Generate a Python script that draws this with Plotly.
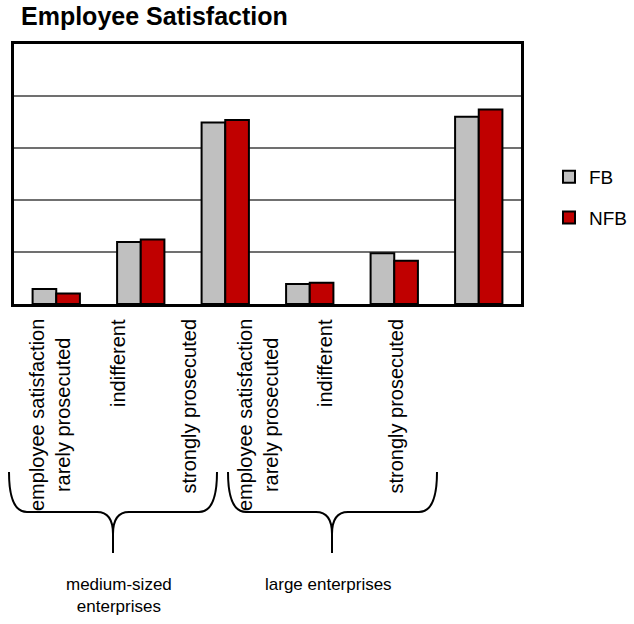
import plotly.graph_objects as go

# ---- data ----
groups = ["medium-sized<br>enterprises", "large enterprises"]
categories = ["employee satisfaction<br>rarely prosecuted", "indifferent", "strongly prosecuted"]
series_names = ["FB", "NFB"]
fb_values = [2.9, 11.9, 34.9, 3.85, 9.75, 36.0]
nfb_values = [2.0, 12.4, 35.4, 4.1, 8.3, 37.4]
y_max = 50
y_step = 10

# ---- layout helpers (pixel geometry of the plot area) ----
W, H = 634, 624
PL, PR, PT, PB = 14, 521, 44, 304


def pxx(x):
    return (x - PL) / (PR - PL)


def pxy(y):
    return (PB - y) / (PB - PT)


x_group = [g for g in groups for _ in categories]
x_cat = [c for _ in groups for c in categories]

SANS = "Liberation Sans, Arial, sans-serif"

fig = go.Figure()
fig.add_trace(go.Bar(
    x=[x_group, x_cat], y=fb_values, name=series_names[0],
    marker=dict(color="#C0C0C0", line=dict(color="black", width=2)),
    legendgroup="a",
))
fig.add_trace(go.Bar(
    x=[x_group, x_cat], y=nfb_values, name=series_names[1],
    marker=dict(color="#C00000", line=dict(color="black", width=2)),
    legendgroup="b",
))

fig.update_layout(
    width=W, height=H,
    margin=dict(l=PL, r=W - PR, t=PT, b=H - PB, autoexpand=False),
    paper_bgcolor="white", plot_bgcolor="white",
    barmode="group", bargap=0.44, bargroupgap=0,
    showlegend=True,
    legend=dict(
        x=pxx(549), y=pxy(158), xanchor="left", yanchor="top",
        font=dict(family=SANS, size=19, color="black"),
        tracegroupgap=13, bgcolor="rgba(0,0,0,0)",
    ),
    title=dict(
        text="<b>Employee Satisfaction</b>",
        x=21 / W, xref="container", xanchor="left",
        y=1 - 7 / H, yref="container", yanchor="top",
        font=dict(family=SANS, size=25, color="black"),
    ),
    xaxis=dict(
        showticklabels=False, showdividers=False, ticks="",
        showline=True, mirror=True, linecolor="black", linewidth=3,
        showgrid=False, zeroline=False,
    ),
    yaxis=dict(
        range=[0, y_max], dtick=y_step, showticklabels=False, ticks="",
        showline=True, mirror=True, linecolor="black", linewidth=3,
        showgrid=True, gridcolor="#707070", gridwidth=1.5, zeroline=False,
    ),
)

# category labels (rotated)
label_x_px = [50, 118, 188, 258, 325, 395]
for lbl, xp in zip(x_cat, label_x_px):
    fig.add_annotation(
        text=lbl, textangle=-90, xref="paper", yref="paper",
        x=pxx(xp), y=pxy(317), xanchor="center", yanchor="top",
        showarrow=False, align="center",
        font=dict(family=SANS, size=20, color="black"),
    )

# group labels
group_x_px = [119, 328]
for g, xp in zip(groups, group_x_px):
    fig.add_annotation(
        text=g, xref="paper", yref="paper",
        x=pxx(xp), y=pxy(573), xanchor="center", yanchor="top",
        showarrow=False, align="center",
        font=dict(family=SANS, size=17, color="black"),
    )


# braces
def brace(x0, tip, x1, ytop=472, ymid=512, ytip=553):
    pts = (
        f"M {pxx(x0)},{pxy(ytop)} "
        f"Q {pxx(x0)},{pxy(ymid)} {pxx(x0 + 18)},{pxy(ymid)} "
        f"L {pxx(tip - 16)},{pxy(ymid)} "
        f"Q {pxx(tip)},{pxy(ymid)} {pxx(tip)},{pxy(ymid + 22)} "
        f"L {pxx(tip)},{pxy(ytip)} "
        f"M {pxx(tip)},{pxy(ymid + 22)} "
        f"Q {pxx(tip)},{pxy(ymid)} {pxx(tip + 16)},{pxy(ymid)} "
        f"L {pxx(x1 - 18)},{pxy(ymid)} "
        f"Q {pxx(x1)},{pxy(ymid)} {pxx(x1)},{pxy(ytop)}"
    )
    fig.add_shape(type="path", path=pts, xref="paper", yref="paper",
                  line=dict(color="black", width=2))


brace(9, 113, 217)
brace(228, 332, 437)

fig.write_html("out.html", config={"displayModeBar": False},
               post_script="document.body.style.margin='0';")
